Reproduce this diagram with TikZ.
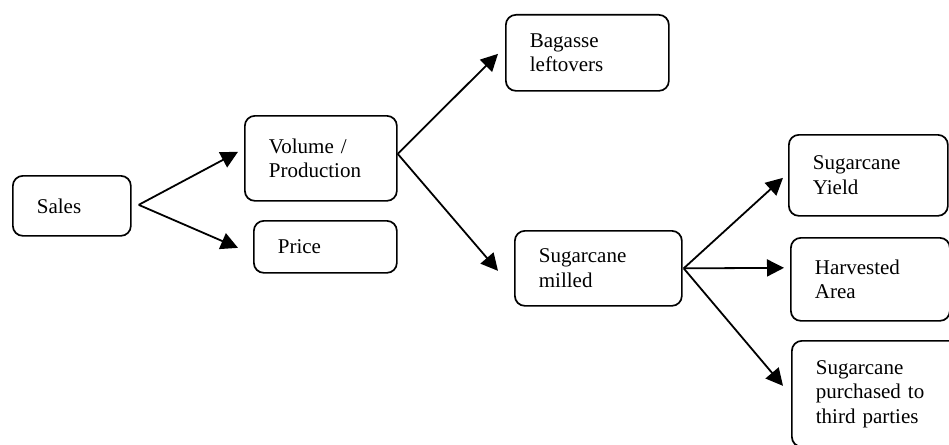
\documentclass[tikz,border=0pt]{standalone}
\usepackage{fontspec}
\setmainfont{Liberation Serif}
\usetikzlibrary{arrows.meta}
\tikzset{
  box/.style={draw, line width=1.7pt, rounded corners=10pt, anchor=north west,
    inner xsep=24pt, inner ysep=0pt, align=left,
    font=\fontsize{21}{24.5}\selectfont},
  arr/.style={line width=1.8pt, -{Triangle[length=17pt,width=17pt]}}
}
\begin{document}
\begin{tikzpicture}[x=1pt,y=-1pt]
\useasboundingbox (0,0) rectangle (949,444);
\node[box, text width=70pt,  minimum height=60pt] (sales) at (12,175) {Sales};
\node[box, text width=104pt, minimum height=85pt] (vol)   at (244,115) {Volume /\\Production};
\node[box, text width=95pt,  minimum height=52pt] (price) at (253,220) {Price};
\node[box, text width=115pt, minimum height=76pt] (bag)   at (505,14) {Bagasse\\leftovers};
\node[box, text width=119pt, minimum height=75pt] (mill)  at (514,230) {Sugarcane\\milled};
\node[box, text width=111pt, minimum height=81pt] (yield) at (788,134) {Sugarcane\\Yield};
\node[box, text width=111pt, minimum height=83pt] (harv)  at (790,237) {Harvested\\Area};
\node[box, text width=130pt, minimum height=106pt] (purch) at (791,340) {Sugarcane\\purchased to\\third parties};
\coordinate (s0) at ([xshift=7pt,yshift=1pt]sales.east);
\coordinate (v0) at ([yshift=4.5pt]vol.east);
\coordinate (m0) at ([xshift=1pt]mill.east);
\draw[arr] (s0) -- ([xshift=-6pt,yshift=6.5pt]vol.west);
\draw[arr] (s0) -- ([xshift=-15pt,yshift=-1pt]price.west);
\draw[arr] (v0) -- ([xshift=-7pt,yshift=-1pt]bag.west);
\draw[arr] (v0) -- ([xshift=-16pt,yshift=-2.5pt]mill.west);
\draw[arr] (m0) -- ([xshift=-5pt,yshift=-2.5pt]yield.west);
\draw[arr] (m0) -- ([xshift=-6pt,yshift=11.5pt]harv.west);
\draw[arr] (m0) -- ([xshift=-8pt,yshift=8pt]purch.west);
\end{tikzpicture}
\end{document}
